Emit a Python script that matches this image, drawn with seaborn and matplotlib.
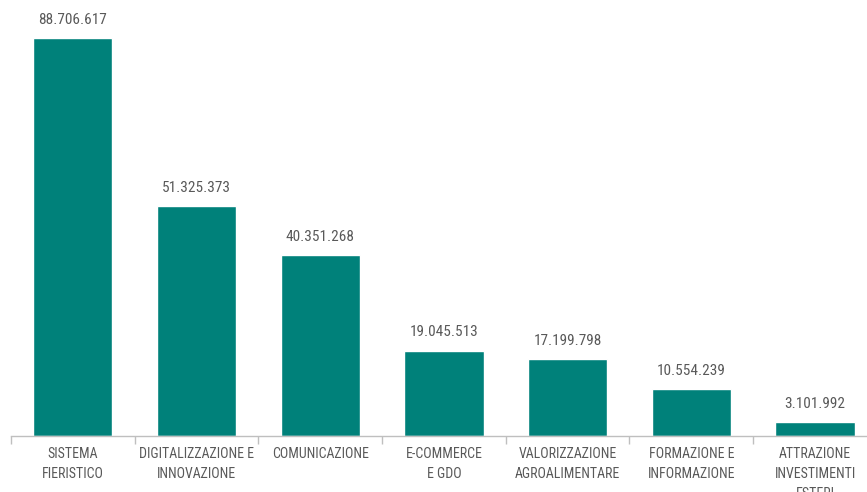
import matplotlib
matplotlib.use("Agg")
import matplotlib.pyplot as plt
import seaborn as sns
import pandas as pd

categories = ["SISTEMA\nFIERISTICO", "DIGITALIZZAZIONE E\nINNOVAZIONE", "COMUNICAZIONE",
              "E-COMMERCE\nE GDO", "VALORIZZAZIONE\nAGROALIMENTARE", "FORMAZIONE E\nINFORMAZIONE",
              "ATTRAZIONE\nINVESTIMENTI\nESTERI"]
values = [88706617, 51325373, 40351268, 19045513, 17199798, 10554239, 3101992]
value_labels = ["88.706.617", "51.325.373", "40.351.268", "19.045.513", "17.199.798", "10.554.239", "3.101.992"]

sns.set_theme(style="white")
plt.rcParams['font.family'] = ['Roboto Condensed', 'DejaVu Sans']

df = pd.DataFrame({"cat": categories, "val": values})
fig = plt.figure(figsize=(8.67, 4.92), dpi=100)
ax = fig.add_axes([11/867, 56/492, 856/867, 398/492])
sns.barplot(data=df, x="cat", y="val", color="#00817A", width=0.64, ax=ax, saturation=1)
ax.set_xlim(-0.5, 6.42)
ax.set_ylim(0, 88706617)
for i, (v, t) in enumerate(zip(values, value_labels)):
    ax.annotate(t, (i, v), xytext=(0, 8), textcoords="offset points", ha="center", va="bottom",
                fontsize=11, color="#595959", annotation_clip=False)
for s in ["top", "right", "left"]:
    ax.spines[s].set_visible(False)
ax.spines["bottom"].set_color("#bfbfbf")
ax.spines["bottom"].set_linewidth(1)
ax.set_yticks([])
ax.set_xlabel("")
ax.set_ylabel("")
ax.set_xticks(range(7))
ax.set_xticklabels(categories, fontsize=10, color="#595959", linespacing=1.55, va="top")
ax.tick_params(axis="x", which="major", length=0, pad=8)
ax.set_xticks([i - 0.5 for i in range(7)], minor=True)
ax.tick_params(axis="x", which="minor", length=6, color="#bfbfbf", width=1, bottom=True)
fig.savefig("out.png", dpi=100)
